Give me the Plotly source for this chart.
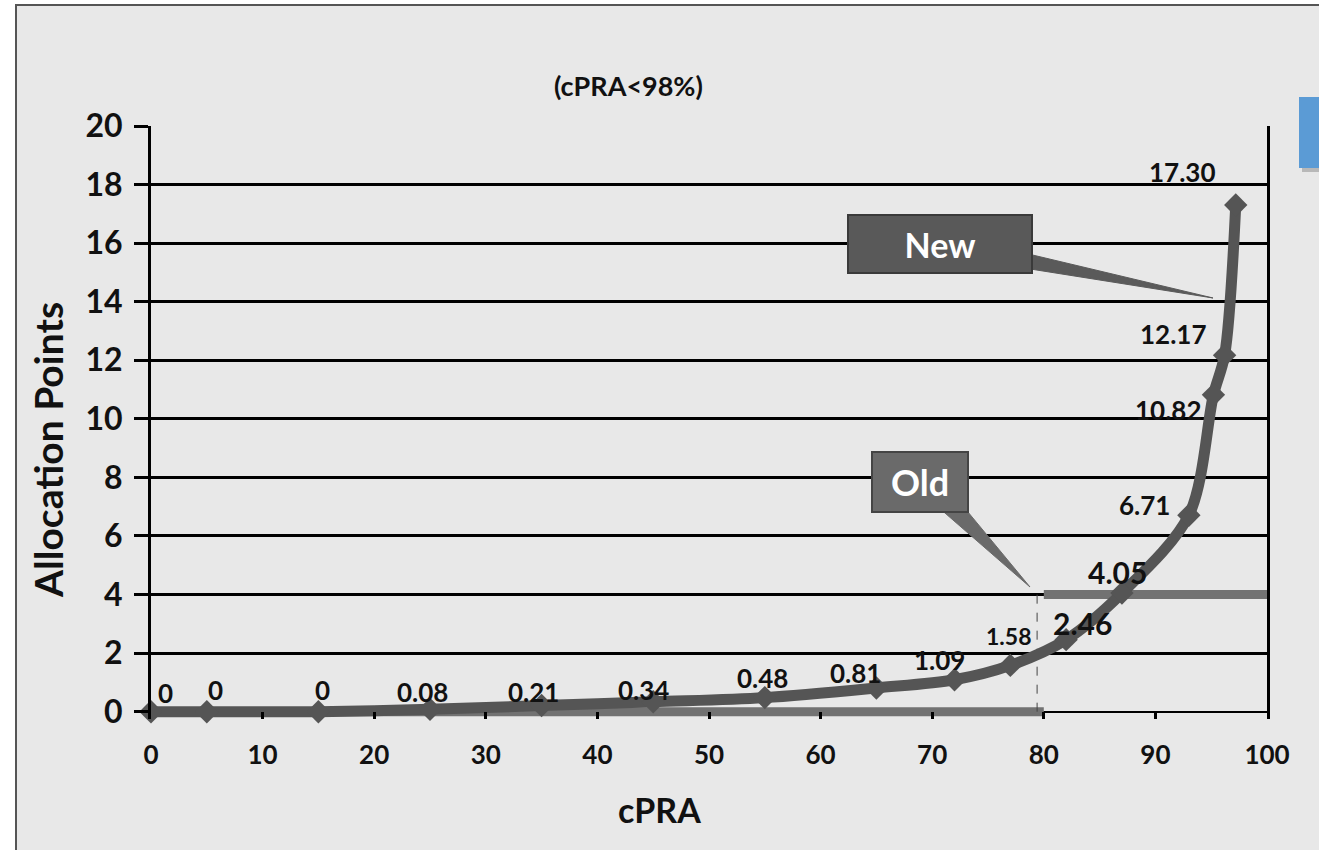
import plotly.graph_objects as go

# ---- data ----
cpra = [0, 5, 15, 25, 35, 45, 55, 65, 72, 77, 82, 87, 93, 95.2, 96.2, 97.2]
new_points = [0, 0, 0, 0.08, 0.21, 0.34, 0.48, 0.81, 1.09, 1.58, 2.46, 4.05, 6.71, 10.82, 12.17, 17.30]
new_labels = ["0", "0", "0", "0.08", "0.21", "0.34", "0.48", "0.81", "1.09", "1.58",
              "2.46", "4.05", "6.71", "10.82", "12.17", "17.30"]
old_low_x = [0, 80]
old_low_y = [0, 0]
old_high_x = [80, 100]
old_high_y = [4, 4]
old_step_x = [79.4, 79.4]
old_step_y = [0, 4]
x_ticks = [0, 10, 20, 30, 40, 50, 60, 70, 80, 90, 100]
y_ticks = [0, 2, 4, 6, 8, 10, 12, 14, 16, 18, 20]

# label pixel offsets (style only)
lab_dx = [14, 9, 4, -8, -8, -10, -2, -21, -15, -2, 16, -4, -44, -45, -51, -53]
lab_dy = [19, 22, 22, 17, 14, 12, 20, 15, 20, 29, 17, 21, 10, -15, 21, 33]
lab_size = [26, 26, 26, 26, 26, 26, 26, 26, 26, 23, 30, 30, 26, 26, 26, 26]

FONT = "Lato"
W, H = 1319, 850
L, R, T, B = 151, 52, 126, 131
PW, PH = W - L - R, H - T - B


def px(x):
    return (x - L) / PW


def py(y):
    return (H - B - y) / PH


def path(points):
    return "M " + " L ".join(f"{px(a):.5f},{py(b):.5f}" for a, b in points) + " Z"


fig = go.Figure()

# Old scoring (step)
fig.add_trace(go.Scatter(x=old_low_x, y=old_low_y, mode="lines",
                         line=dict(color="#727272", width=9), hoverinfo="skip", showlegend=False))
fig.add_trace(go.Scatter(x=old_high_x, y=old_high_y, mode="lines",
                         line=dict(color="#727272", width=9), hoverinfo="skip", showlegend=False))
fig.add_trace(go.Scatter(x=old_step_x, y=old_step_y, mode="lines",
                         line=dict(color="#444444", width=1, dash="dash"), hoverinfo="skip", showlegend=False))

# New scoring curve
fig.add_trace(go.Scatter(x=cpra, y=new_points, mode="lines+markers",
                         line=dict(color="#555555", width=11, shape="spline", smoothing=0.9),
                         marker=dict(symbol="diamond", size=18, color="#555555"),
                         cliponaxis=False, showlegend=False))

annotations = []
for xv, yv, t, dx, dy, s in zip(cpra, new_points, new_labels, lab_dx, lab_dy, lab_size):
    annotations.append(dict(x=xv, y=yv, xref="x", yref="y", text=t, showarrow=False,
                            xshift=dx, yshift=dy, xanchor="center", yanchor="middle",
                            font=dict(family=FONT, size=s, color="#111111", weight="bold")))

# callout boxes
annotations.append(dict(x=px(940), y=py(244), xref="paper", yref="paper",
                        text="New", showarrow=False, xanchor="center", yanchor="middle",
                        bgcolor="#595959", bordercolor="#3a3a3a", borderwidth=2, borderpad=2,
                        width=178, height=52,
                        font=dict(family=FONT, size=34, color="white", weight="bold")))
annotations.append(dict(x=px(920), y=py(482), xref="paper", yref="paper",
                        text="Old", showarrow=False, xanchor="center", yanchor="middle",
                        bgcolor="#6a6a6a", bordercolor="#444444", borderwidth=2, borderpad=2,
                        width=90, height=54,
                        font=dict(family=FONT, size=36, color="white", weight="bold")))

# titles
annotations.append(dict(x=px(628), y=py(85), xref="paper", yref="paper", text="(cPRA<98%)",
                        showarrow=False, xanchor="center", yanchor="middle",
                        font=dict(family=FONT, size=27, color="#111111", weight="bold")))
annotations.append(dict(x=px(659), y=py(809), xref="paper", yref="paper", text="cPRA",
                        showarrow=False, xanchor="center", yanchor="middle",
                        font=dict(family=FONT, size=34, color="#111111", weight="bold")))
annotations.append(dict(x=px(48), y=py(450), xref="paper", yref="paper", text="Allocation Points",
                        textangle=-90, showarrow=False, xanchor="center", yanchor="middle",
                        font=dict(family=FONT, size=39, color="#111111", weight="bold")))

shapes = [
    dict(type="rect", xref="paper", yref="paper", x0=px(16), x1=px(1335), y0=py(865), y1=py(5),
         fillcolor="#e8e8e8", line=dict(color="#555555", width=2), layer="below"),
    dict(type="rect", xref="paper", yref="paper", x0=px(1302), x1=px(1335), y0=py(172), y1=py(101),
         fillcolor="#b8b8b8", line=dict(width=0), layer="below"),
    dict(type="rect", xref="paper", yref="paper", x0=px(1299), x1=px(1335), y0=py(168), y1=py(97),
         fillcolor="#5b9bd5", line=dict(width=0), layer="below"),
    # callout pointers (wedges)
    dict(type="path", xref="paper", yref="paper",
         path=path([(1020, 252), (1024, 268), (1213, 298)]),
         fillcolor="#5a5a5a", line=dict(color="#5a5a5a", width=1)),
    dict(type="path", xref="paper", yref="paper",
         path=path([(930, 500), (958, 500), (1030, 587)]),
         fillcolor="#6a6a6a", line=dict(color="#6a6a6a", width=1)),
]

fig.update_layout(
    width=W, height=H,
    margin=dict(l=L, r=R, t=T, b=B),
    paper_bgcolor="white",
    plot_bgcolor="rgba(0,0,0,0)",
    annotations=annotations,
    shapes=shapes,
    showlegend=False,
    xaxis=dict(range=[0, 100], tickvals=x_ticks, ticktext=[str(v) for v in x_ticks],
               showgrid=False, zeroline=False, showline=False,
               ticks="inside", ticklen=7, tickwidth=2.5, tickcolor="black",
               ticklabelstandoff=18,
               tickfont=dict(family=FONT, size=26, color="#111111", weight="bold")),
    yaxis=dict(range=[-0.25, 20], tickvals=y_ticks, ticktext=[str(v) for v in y_ticks],
               showgrid=True, gridcolor="black", gridwidth=2.5,
               zeroline=True, zerolinecolor="black", zerolinewidth=2,
               showline=True, linecolor="black", linewidth=3, mirror=True,
               ticks="outside", ticklen=14, tickwidth=2.5, tickcolor="black",
               ticklabelstandoff=5,
               tickfont=dict(family=FONT, size=32, color="#111111", weight="bold")),
)

fig.write_html("out.html")
